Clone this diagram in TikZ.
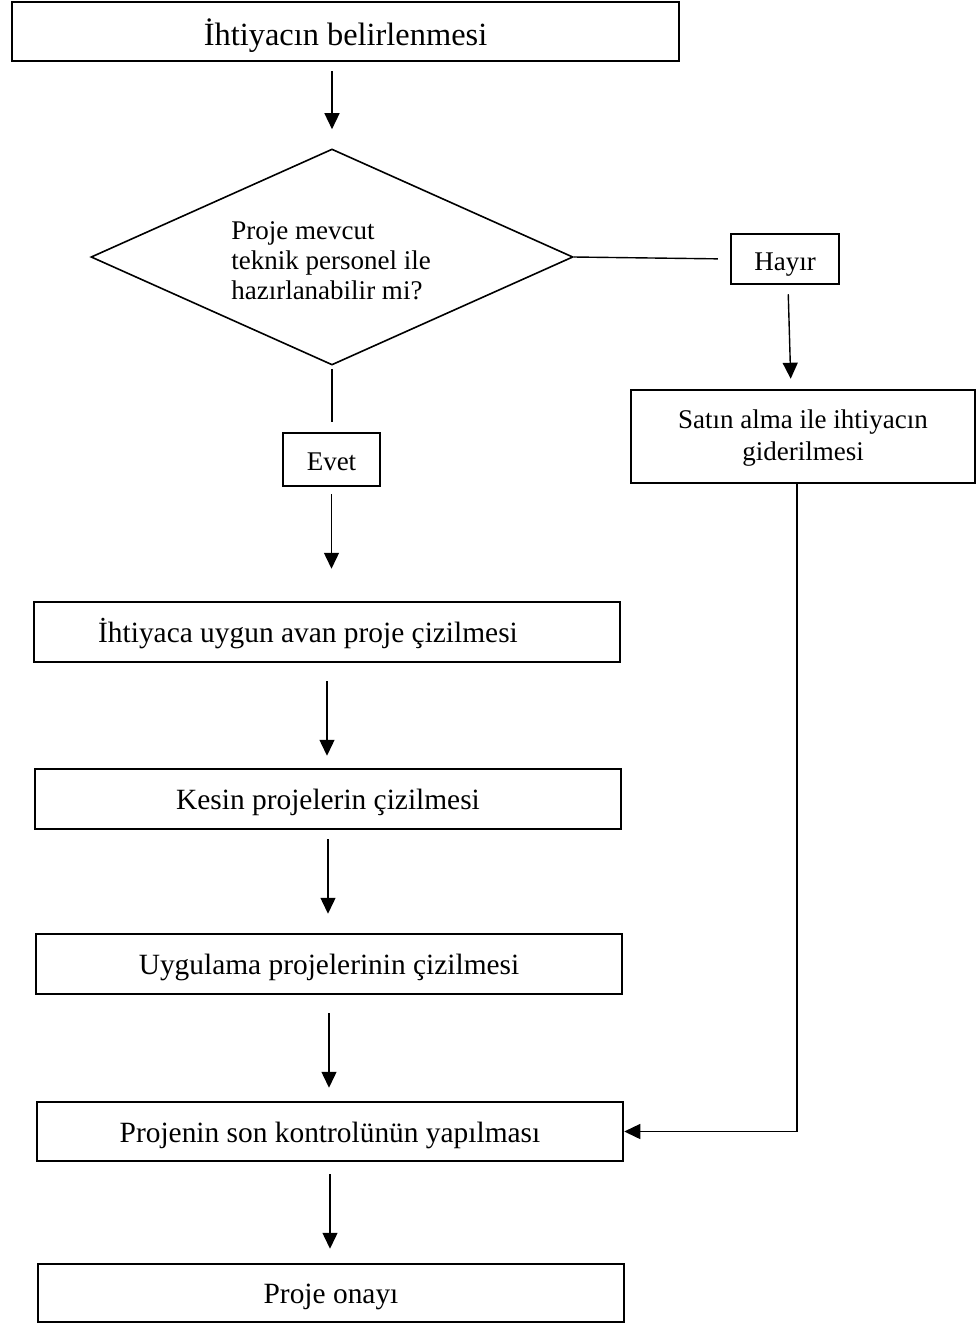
\documentclass[tikz,border=0pt]{standalone}
\usepackage{fontspec}
\setmainfont{Liberation Serif}
\usetikzlibrary{shapes.geometric,arrows.meta,calc}
\begin{document}
\begin{tikzpicture}[x=1pt,y=-1pt,
  box/.style={draw, line width=2.5pt, rectangle, inner sep=0pt, font=\fontsize{27}{32}\selectfont, align=center},
  small/.style={box, text height=22pt, text depth=0pt},
  big/.style={box, minimum width=586pt, font=\fontsize{29.4}{34}\selectfont, text height=21pt, text depth=0pt},
  conn/.style={line width=1.4pt},
  arr/.style={conn, -{Triangle[width=15pt,length=16pt]}}]
\useasboundingbox (0,0) rectangle (976,1323);
% nodes
\node[box, minimum width=667pt, minimum height=59pt, font=\fontsize{32.4}{36}\selectfont, text height=28pt, text depth=0pt] (top) at (345.5,31.5) {İhtiyacın belirlenmesi};
\node[draw, diamond, line width=1.6pt, minimum width=482pt, minimum height=216pt, inner sep=0pt] (dia) at (332,257) {};
\node[font=\fontsize{27}{30}\selectfont, align=left, inner sep=0pt] (q) at (331,261) {Proje mevcut\\teknik personel ile\\hazırlanabilir mi?};
\node[small, minimum width=108pt, minimum height=50pt] (hayir) at (785,259) {Hayır};
\node[box, minimum width=344pt, minimum height=93pt, label={[font=\fontsize{27}{32}\selectfont, align=center, inner sep=0pt, yshift=-2pt]center:Satın alma ile ihtiyacın\\giderilmesi}] (satin) at (803,436.5) {};
\node[small, minimum width=97pt, minimum height=53pt] (evet) at (331.5,459.5) {Evet};
\node[big, minimum height=60pt, label={[font=\fontsize{29.4}{34}\selectfont, text height=21pt, text depth=0pt, inner sep=0pt, xshift=-19pt]center:İhtiyaca uygun avan proje çizilmesi}] (s1) at (327,632) {};
\node[big, minimum height=60pt] (s2) at (328,799) {Kesin projelerin çizilmesi};
\node[big, minimum height=60pt] (s3) at (329,964) {Uygulama projelerinin çizilmesi};
\node[big, minimum height=59pt] (s4) at (330,1131.5) {Projenin son kontrolünün yapılması};
\node[big, minimum height=58pt] (s5) at (331,1293) {Proje onayı};
% connectors
\draw[arr, shorten <=9pt, shorten >=19pt] (top.south -| dia.north) -- (dia.north);
\draw[conn, shorten >=12pt] (dia.east) -- (hayir.west);
\draw[arr, shorten <=9pt, shorten >=10pt] ([xshift=3pt]hayir.south) -- ([xshift=-12pt]satin.north);
\draw[conn, shorten <=3pt, shorten >=10pt] (dia.south) -- (dia.south |- evet.north);
\draw[arr, shorten <=7pt, shorten >=32pt] (evet.south) -- (evet.south |- s1.north);
\draw[arr, shorten <=18pt, shorten >=12pt] (s1.south) -- (s1.south |- s2.north);
\draw[arr, shorten <=9pt, shorten >=19pt] (s2.south) -- (s2.south |- s3.north);
\draw[arr, shorten <=18pt, shorten >=13pt] (s3.south) -- (s3.south |- s4.north);
\draw[arr, shorten <=12pt, shorten >=14pt] (s4.south) -- (s4.south |- s5.north);
\draw[arr] ([xshift=-6pt]satin.south) |- (s4.east);
\end{tikzpicture}
\end{document}
